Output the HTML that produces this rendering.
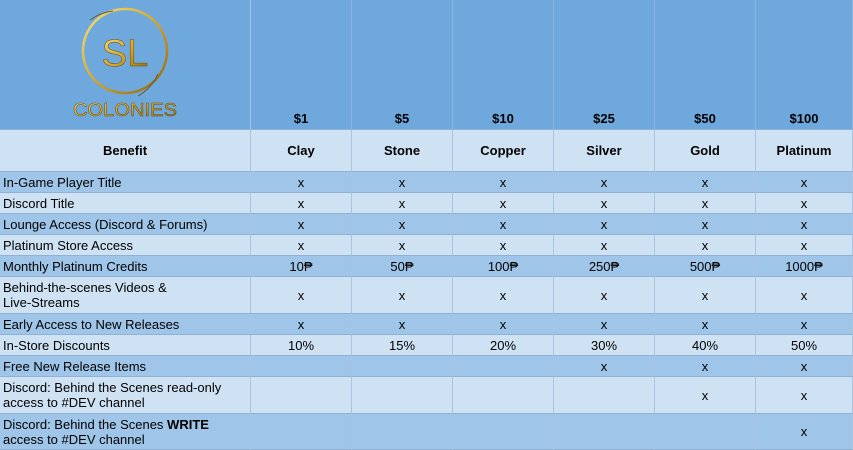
<!DOCTYPE html>
<html><head><meta charset="utf-8"><style>
*{margin:0;padding:0;box-sizing:border-box}
body{width:853px;height:450px;overflow:hidden;background:#cfe2f3;font-family:"Liberation Sans",Arial,sans-serif;font-size:13px;color:#000;position:relative}
.c{position:absolute;display:flex;align-items:center;justify-content:center;text-align:center;border-right:1px solid #a9c4df;border-bottom:1px solid #8fb1d4}
.l{justify-content:flex-start;text-align:left;padding-left:3px;line-height:15px}
.b{font-weight:bold}
</style></head><body>
<div id="t"></div>
<script>
const cols=[0,251,352,453,554,655,756,853];
const rowsY=[0,130,172,193,214,235,256,277,314,335,356,377,414,450];
const prices=["$1","$5","$10","$25","$50","$100"];
const tiers=["Clay","Stone","Copper","Silver","Gold","Platinum"];
const benefits=[
 ["In-Game Player Title",["x","x","x","x","x","x"]],
 ["Discord Title",["x","x","x","x","x","x"]],
 ["Lounge Access (Discord &amp; Forums)",["x","x","x","x","x","x"]],
 ["Platinum Store Access",["x","x","x","x","x","x"]],
 ["Monthly Platinum Credits",["10₱","50₱","100₱","250₱","500₱","1000₱"]],
 ["Behind-the-scenes Videos &amp;<br>Live-Streams",["x","x","x","x","x","x"]],
 ["Early Access to New Releases",["x","x","x","x","x","x"]],
 ["In-Store Discounts",["10%","15%","20%","30%","40%","50%"]],
 ["Free New Release Items",["","","","x","x","x"]],
 ["Discord: Behind the Scenes read-only<br>access to #DEV channel",["","","","","x","x"]],
 ["Discord: Behind the Scenes <b>WRITE</b><br>access to #DEV channel",["","","","","","x"]]
];
const t=document.getElementById('t');
function cell(c,r,html,bg,cls,name){
 const d=document.createElement('div');
 
 
 d.className='c '+(cls||'');
 d.style.left=cols[c]+'px';d.style.width=(cols[c+1]-cols[c])+'px';
 d.style.top=rowsY[r]+'px';d.style.height=(rowsY[r+1]-rowsY[r])+'px';
 d.style.background=bg;
 d.innerHTML='<span>'+html+'</span>';t.appendChild(d);return d;
}
const logo=cell(0,0,`<svg width="251" height="130" viewBox="0 0 251 130" style="display:block"><defs><linearGradient id="g" x1="0" y1="0" x2="1" y2="1"><stop offset="0" stop-color="#f6e27a"/><stop offset=".5" stop-color="#d4a62c"/><stop offset="1" stop-color="#8a6512"/></linearGradient></defs><circle cx="125" cy="51" r="42" fill="none" stroke="url(#g)" stroke-width="2.5"/><path d="M90 20 A48 48 0 0 1 113 11" fill="none" stroke="#6a5a3a" stroke-width="1"/><path d="M158 74 A48 48 0 0 1 138 96" fill="none" stroke="#6a5a3a" stroke-width="1"/><text x="125" y="66" text-anchor="middle" font-family="Liberation Sans,sans-serif" font-size="38" fill="url(#g)" stroke="#6b4d0c" stroke-width=".5">SL</text><text x="125" y="116" text-anchor="middle" font-family="Liberation Sans,sans-serif" font-size="18" fill="url(#g)" stroke="#6b4d0c" stroke-width=".5" textLength="104" lengthAdjust="spacingAndGlyphs">COLONIES</text></svg>`,'#6fa8dc','','logo');
logo.style.alignItems='flex-start';
for(let i=0;i<6;i++){const d=cell(i+1,0,prices[i],'#6fa8dc','b','price-'+tiers[i].toLowerCase());d.style.alignItems='flex-end';d.style.paddingBottom='3px';d.style.borderRight='1px solid #8ab5de';}
cell(0,1,'Benefit','#cfe2f3','b','benefit-header');
for(let i=0;i<6;i++)cell(i+1,1,tiers[i],'#cfe2f3','b','tier-'+tiers[i].toLowerCase());
benefits.forEach((b,k)=>{
 const r=k+2,bg=(k%2===0)?'#9fc5e8':'#cfe2f3';
 const nm=b[0].replace(/<[^>]+>/g,'').replace(/&amp;/g,'and').toLowerCase().replace(/[^a-z0-9]+/g,'-').replace(/^-|-$/g,'');
 cell(0,r,b[0],bg,'l','benefit-'+nm);
 b[1].forEach((v,i)=>cell(i+1,r,v,bg,'',nm+'-'+tiers[i].toLowerCase()));
});
</script>
</body></html>
